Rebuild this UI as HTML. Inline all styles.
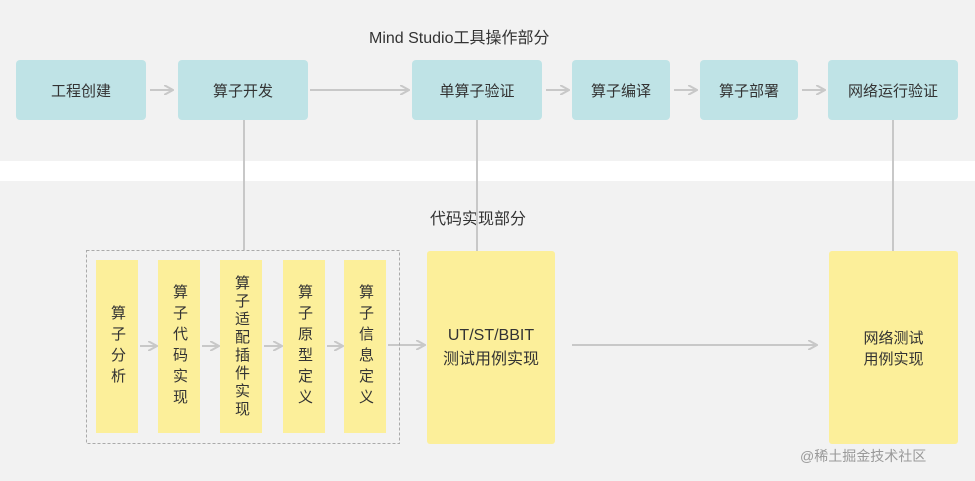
<!DOCTYPE html>
<html><head><meta charset="utf-8"><style>
body{margin:0;width:975px;height:481px;background:#f2f2f2;position:relative;overflow:hidden;font-family:"Liberation Sans","Noto Sans CJK SC",sans-serif;color:#333;}
.b{position:absolute;background:#bfe3e6;border-radius:4px;display:flex;align-items:center;justify-content:center;font-size:15px;}
.y{position:absolute;background:#fcef9a;display:flex;align-items:center;justify-content:center;font-size:15px;text-align:center;}
.v{writing-mode:vertical-rl;letter-spacing:6px;line-height:1.2;}
.t{position:absolute;font-size:16px;}
</style></head><body>
<div style="position:absolute;left:0;top:161px;width:975px;height:20px;background:#fff"></div>
<div class="t" style="left:369px;top:24px;">Mind Studio工具操作部分</div>
<div class="t" style="left:430px;top:205px;">代码实现部分</div>
<svg width="975" height="481" style="position:absolute;left:0;top:0">
<defs><marker id="a" markerWidth="10" markerHeight="10" refX="8" refY="5" orient="auto" markerUnits="userSpaceOnUse"><path d="M0,0 L9,5 L0,10" fill="none" stroke="#c8c8c8" stroke-width="2"/></marker></defs>
<g stroke="#c8c8c8" stroke-width="2" fill="none">
<line x1="150" y1="90" x2="172" y2="90" marker-end="url(#a)"/>
<line x1="310" y1="90" x2="408" y2="90" marker-end="url(#a)"/>
<line x1="546" y1="90" x2="568" y2="90" marker-end="url(#a)"/>
<line x1="674" y1="90" x2="696" y2="90" marker-end="url(#a)"/>
<line x1="802" y1="90" x2="824" y2="90" marker-end="url(#a)"/>
<line x1="244" y1="120" x2="244" y2="250"/>
<line x1="477" y1="120" x2="477" y2="251"/>
<line x1="893" y1="120" x2="893" y2="251"/>
<line x1="140" y1="346" x2="156" y2="346" marker-end="url(#a)"/>
<line x1="202" y1="346" x2="218" y2="346" marker-end="url(#a)"/>
<line x1="264" y1="346" x2="281" y2="346" marker-end="url(#a)"/>
<line x1="327" y1="346" x2="342" y2="346" marker-end="url(#a)"/>
<line x1="388" y1="345" x2="424" y2="345" marker-end="url(#a)"/>
<line x1="572" y1="345" x2="816" y2="345" marker-end="url(#a)"/>
</g>
<rect x="86.5" y="250.5" width="313" height="193" fill="none" stroke="#aaa" stroke-dasharray="3,2"/>
</svg>
<div class="b" style="left:16px;top:60px;width:130px;height:60px">工程创建</div>
<div class="b" style="left:178px;top:60px;width:130px;height:60px">算子开发</div>
<div class="b" style="left:412px;top:60px;width:130px;height:60px">单算子验证</div>
<div class="b" style="left:572px;top:60px;width:98px;height:60px">算子编译</div>
<div class="b" style="left:700px;top:60px;width:98px;height:60px">算子部署</div>
<div class="b" style="left:828px;top:60px;width:130px;height:60px">网络运行验证</div>
<div class="y" style="left:96px;top:260px;width:42px;height:173px"><span class="v">算子分析</span></div>
<div class="y" style="left:158px;top:260px;width:42px;height:173px"><span class="v">算子代码实现</span></div>
<div class="y" style="left:220px;top:260px;width:42px;height:173px"><span class="v" style="letter-spacing:3px">算子适配插件实现</span></div>
<div class="y" style="left:283px;top:260px;width:42px;height:173px"><span class="v">算子原型定义</span></div>
<div class="y" style="left:344px;top:260px;width:42px;height:173px"><span class="v">算子信息定义</span></div>
<div class="y" style="left:427px;top:251px;width:128px;height:193px;border-radius:3px;font-size:16px"><span>UT/ST/BBIT<br>测试用例实现</span></div>
<div class="y" style="left:829px;top:251px;width:129px;height:193px;border-radius:3px"><span>网络测试<br>用例实现</span></div>
<div class="t" style="left:800px;top:446px;color:#999;font-size:14px">@稀土掘金技术社区</div>
</body></html>
